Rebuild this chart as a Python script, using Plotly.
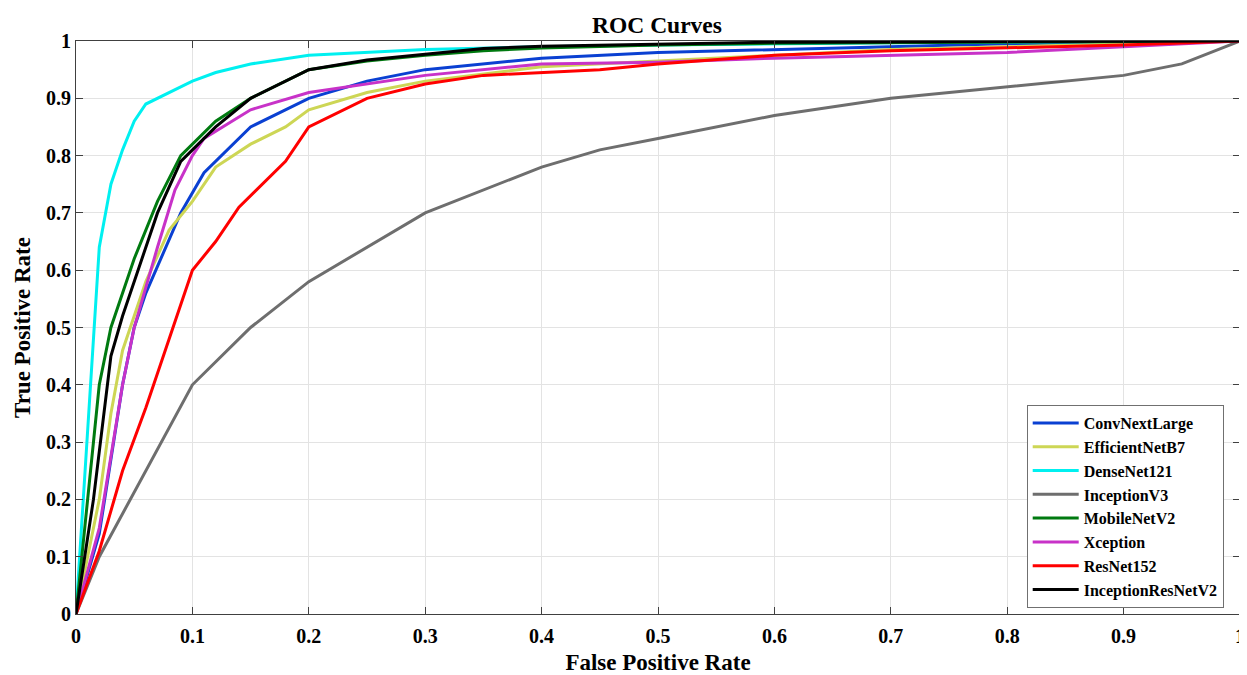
import plotly.graph_objects as go

names = ["ConvNextLarge", "EfficientNetB7", "DenseNet121", "InceptionV3",
         "MobileNetV2", "Xception", "ResNet152", "InceptionResNetV2"]
colors = ["#0a40d2", "#cdd655", "#00f0f0", "#6e6e6e",
          "#007a10", "#c832c8", "#ff0000", "#000000"]

tick_vals = [0, 0.1, 0.2, 0.3, 0.4, 0.5, 0.6, 0.7, 0.8, 0.9, 1]
tick_text = ["0", "0.1", "0.2", "0.3", "0.4", "0.5", "0.6", "0.7", "0.8", "0.9", "1"]

conv_x = [0, 0.02, 0.04, 0.05, 0.06, 0.09, 0.11, 0.15, 0.2, 0.25, 0.3, 0.4, 0.5, 0.6, 0.7, 0.8, 1]
conv_y = [0, 0.14, 0.40, 0.50, 0.56, 0.70, 0.77, 0.85, 0.90, 0.93, 0.95, 0.97, 0.98, 0.985, 0.99, 0.995, 1]

eff_x = [0, 0.02, 0.03, 0.04, 0.05, 0.06, 0.08, 0.10, 0.12, 0.15, 0.18, 0.2, 0.25, 0.3, 0.4, 0.5, 0.6, 0.7, 0.8, 1]
eff_y = [0, 0.20, 0.35, 0.46, 0.52, 0.58, 0.67, 0.72, 0.78, 0.82, 0.85, 0.88, 0.91, 0.93, 0.955, 0.965, 0.975, 0.985, 0.99, 1]

dense_x = [0, 0.02, 0.03, 0.04, 0.05, 0.06, 0.10, 0.12, 0.15, 0.2, 0.3, 0.4, 0.5, 0.7, 1]
dense_y = [0, 0.64, 0.75, 0.81, 0.86, 0.89, 0.93, 0.945, 0.96, 0.975, 0.985, 0.99, 0.993, 0.997, 1]

incv3_x = [0, 0.02, 0.10, 0.15, 0.2, 0.3, 0.4, 0.45, 0.5, 0.6, 0.7, 0.8, 0.9, 0.95, 1]
incv3_y = [0, 0.10, 0.40, 0.50, 0.58, 0.70, 0.78, 0.81, 0.83, 0.87, 0.90, 0.92, 0.94, 0.96, 1]

mob_x = [0, 0.02, 0.03, 0.05, 0.07, 0.09, 0.12, 0.15, 0.2, 0.25, 0.3, 0.35, 0.4, 0.5, 0.6, 0.8, 1]
mob_y = [0, 0.40, 0.50, 0.62, 0.72, 0.80, 0.86, 0.90, 0.95, 0.965, 0.975, 0.983, 0.988, 0.993, 0.996, 0.998, 1]

xcep_x = [0, 0.02, 0.04, 0.05, 0.06, 0.07, 0.085, 0.10, 0.11, 0.15, 0.2, 0.25, 0.3, 0.4, 0.5, 0.6, 0.7, 0.8, 0.9, 1]
xcep_y = [0, 0.15, 0.40, 0.50, 0.57, 0.64, 0.74, 0.80, 0.83, 0.88, 0.91, 0.925, 0.94, 0.96, 0.963, 0.97, 0.975, 0.98, 0.99, 1]

res_x = [0, 0.02, 0.04, 0.06, 0.08, 0.10, 0.12, 0.14, 0.18, 0.2, 0.25, 0.3, 0.35, 0.4, 0.45, 0.5, 0.6, 0.7, 0.8, 0.9, 1]
res_y = [0, 0.11, 0.25, 0.36, 0.48, 0.60, 0.65, 0.71, 0.79, 0.85, 0.90, 0.925, 0.94, 0.945, 0.95, 0.96, 0.975, 0.983, 0.988, 0.993, 1]

irn_x = [0, 0.015, 0.03, 0.04, 0.07, 0.09, 0.12, 0.15, 0.2, 0.25, 0.3, 0.35, 0.4, 0.5, 0.6, 1]
irn_y = [0, 0.20, 0.45, 0.52, 0.70, 0.79, 0.85, 0.90, 0.95, 0.967, 0.977, 0.987, 0.991, 0.995, 0.998, 1]

xs = [conv_x, eff_x, dense_x, incv3_x, mob_x, xcep_x, res_x, irn_x]
ys = [conv_y, eff_y, dense_y, incv3_y, mob_y, xcep_y, res_y, irn_y]

font_family = "Liberation Serif"

fig = go.Figure()
for n, c, x, y in zip(names, colors, xs, ys):
    fig.add_trace(go.Scatter(x=x, y=y, mode="lines", name="<b>" + n + "</b>",
                             line=dict(color=c, width=3)))

axis_common = dict(
    range=[0, 1], tickmode="array", tickvals=tick_vals,
    ticktext=["<b>" + t + "</b>" for t in tick_text],
    showgrid=True, gridcolor="#e3e3e3", gridwidth=1,
    zeroline=False, showline=True, linecolor="#404040", linewidth=1.2,
    mirror="ticks", ticks="inside", ticklen=7, tickcolor="#404040",
    tickfont=dict(family=font_family, size=20, color="black"),
    automargin=False,
)

# the page body adds an 8px offset; the figure size compensates for it
fig.update_layout(
    width=1239, height=667,
    paper_bgcolor="white", plot_bgcolor="white",
    margin=dict(l=68, r=7, t=33, b=61),
    title=dict(text="<b>ROC Curves</b>", x=0.5238, xanchor="center", y=0.9745, yanchor="middle",
               font=dict(family=font_family, size=23.5, color="black")),
    xaxis=dict(title=dict(text="<b>False Positive Rate</b>", standoff=12,
                          font=dict(family=font_family, size=23, color="black")),
               ticklabelstandoff=4, **axis_common),
    yaxis=dict(title=dict(text="<b>True Positive Rate</b>", standoff=8,
                          font=dict(family=font_family, size=23, color="black")),
               **axis_common),
    legend=dict(x=0.986, xanchor="right", y=0.0105, yanchor="bottom",
                bgcolor="white", bordercolor="#707070", borderwidth=1,
                font=dict(family=font_family, size=16, color="black"),
                tracegroupgap=0, itemwidth=46),
    showlegend=True,
)

fig.write_html("out.html")
